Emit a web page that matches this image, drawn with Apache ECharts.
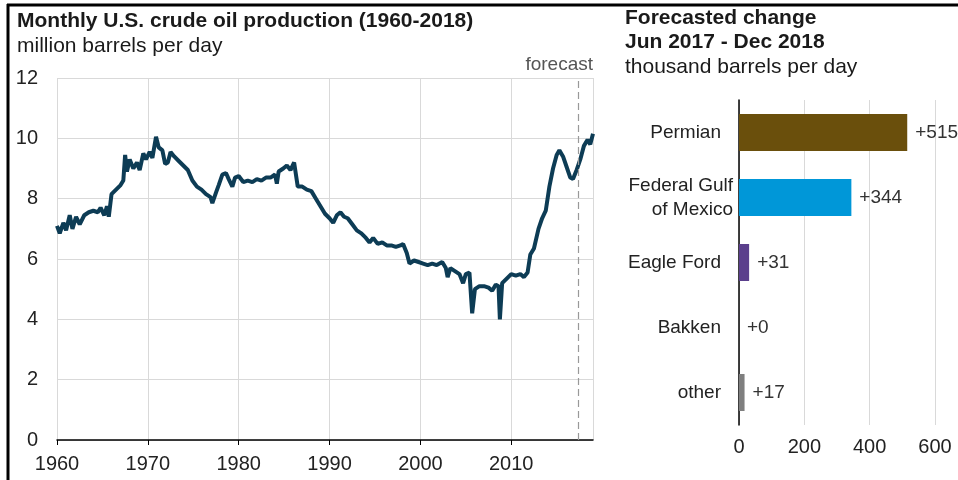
<!DOCTYPE html>
<html>
<head>
<meta charset="utf-8">
<script src="https://cdn.jsdelivr.net/npm/echarts@6/dist/echarts.min.js"></script>
<style>
  html, body { margin: 0; padding: 0; background: #fff; }
  #chart { width: 958px; height: 480px; }
</style>
</head>
<body>
<div id="chart"></div>
<script>
// monthly production (year, million b/d)
var prodYears = [
  1960.0, 1960.3, 1960.7, 1961.0, 1961.4, 1961.7, 1962.1, 1962.5, 1963.0, 1963.5,
  1964.0, 1964.5, 1964.8, 1965.2, 1965.5, 1965.7, 1966.0, 1966.5, 1967.0, 1967.3,
  1967.5, 1967.7, 1968.0, 1968.4, 1968.8, 1969.1, 1969.5, 1969.8, 1970.2, 1970.5,
  1970.9, 1971.2, 1971.6, 1971.9, 1972.2, 1972.5, 1972.9, 1973.4, 1973.9, 1974.4,
  1974.9, 1975.4, 1975.9, 1976.4, 1976.9, 1977.1, 1977.5, 1977.8, 1978.2, 1978.6,
  1978.9, 1979.3, 1979.6, 1980.0, 1980.5, 1981.0, 1981.5, 1982.0, 1982.5, 1983.0,
  1983.5, 1984.0, 1984.2, 1984.4, 1984.9, 1985.3, 1985.7, 1986.1, 1986.5, 1987.0,
  1987.5, 1988.0, 1988.5, 1989.0, 1989.5, 1990.0, 1990.4, 1990.8, 1991.2, 1991.6,
  1992.0, 1992.5, 1993.0, 1993.5, 1994.0, 1994.4, 1994.8, 1995.3, 1995.8, 1996.3,
  1996.8, 1997.3, 1997.8, 1998.1, 1998.5, 1998.8, 1999.3, 1999.8, 2000.3, 2000.8,
  2001.3, 2001.8, 2002.4, 2002.8, 2003.0, 2003.3, 2003.8, 2004.3, 2004.7, 2005.0,
  2005.4, 2005.7, 2006.0, 2006.5, 2007.0, 2007.5, 2007.9, 2008.3, 2008.6, 2008.75,
  2009.0, 2009.5, 2010.0, 2010.5, 2011.0, 2011.4, 2011.8, 2012.1, 2012.5, 2013.0,
  2013.4, 2013.8, 2014.2, 2014.6, 2015.0, 2015.3, 2015.7, 2016.1, 2016.5, 2016.8,
  2017.2, 2017.6, 2018.0, 2018.4, 2018.7, 2019.0
];
var prodValues = [
  7.10, 6.85, 7.20, 6.95, 7.45, 7.00, 7.40, 7.15, 7.45, 7.55,
  7.60, 7.55, 7.70, 7.45, 7.75, 7.40, 8.15, 8.30, 8.45, 8.60,
  9.45, 8.90, 9.30, 9.00, 9.20, 8.95, 9.50, 9.30, 9.55, 9.35,
  10.05, 9.70, 9.60, 9.15, 9.20, 9.55, 9.40, 9.25, 9.10, 8.95,
  8.60, 8.40, 8.30, 8.15, 8.05, 7.85, 8.20, 8.45, 8.80, 8.85,
  8.65, 8.40, 8.70, 8.75, 8.55, 8.60, 8.55, 8.65, 8.60, 8.70,
  8.70, 8.80, 8.50, 8.90, 9.00, 9.10, 8.95, 9.20, 8.40, 8.40,
  8.30, 8.25, 8.00, 7.75, 7.50, 7.35, 7.20, 7.45, 7.55, 7.40,
  7.35, 7.15, 6.95, 6.85, 6.70, 6.55, 6.70, 6.50, 6.55, 6.45,
  6.45, 6.40, 6.45, 6.50, 6.20, 5.85, 5.95, 5.90, 5.85, 5.80,
  5.85, 5.80, 5.90, 5.70, 5.40, 5.70, 5.60, 5.50, 5.20, 5.50,
  5.55, 4.20, 5.00, 5.10, 5.10, 5.05, 4.95, 5.15, 5.10, 4.00,
  5.20, 5.35, 5.50, 5.45, 5.50, 5.40, 5.55, 6.15, 6.35, 7.00,
  7.35, 7.60, 8.40, 9.00, 9.45, 9.60, 9.40, 9.05, 8.70, 8.65,
  8.95, 9.30, 9.75, 9.95, 9.80, 10.15
];
var forecastStart = 2017.42;

// forecasted change by region, thousand b/d
var regions = ['Permian', 'Federal Gulf\nof Mexico', 'Eagle Ford', 'Bakken', 'other'];
var changes = [515, 344, 31, 0, 17];
var regionColors = ['#6a4f0c', '#0097d8', '#5b3f8c', '#7f7f7f', '#7f7f7f'];

var font = 'Liberation Sans, Arial, sans-serif';

var lineData = prodYears.map(function (y, i) { return [y, prodValues[i]]; });

var chart = echarts.init(document.getElementById('chart'));

var option = {
  backgroundColor: '#fff',
  animation: false,
  textStyle: { fontFamily: font },
  grid: [
    { left: 57, right: 365, top: 78, bottom: 40 },
    { left: 739, right: 23, top: 100, bottom: 55 }
  ],
  xAxis: [
    {
      gridIndex: 0,
      type: 'value',
      min: 1960,
      max: 2019,
      interval: 10,
      axisLine: { show: true, lineStyle: { color: '#000', width: 1.5 } },
      axisTick: { show: true, length: 5, lineStyle: { color: '#000' } },
      axisLabel: {
        color: '#222', fontSize: 20, margin: 14,
        showMaxLabel: false,
        formatter: function (v) { return v % 10 === 0 ? String(v) : ''; }
      },
      splitLine: { show: true, lineStyle: { color: '#d9d9d9', width: 1 } }
    },
    {
      gridIndex: 1,
      type: 'value',
      min: 0,
      max: 600,
      interval: 200,
      axisLine: { show: false },
      axisTick: { show: false },
      axisLabel: { color: '#222', fontSize: 20, margin: 12 },
      splitLine: { show: true, lineStyle: { color: '#d9d9d9', width: 1 } }
    }
  ],
  yAxis: [
    {
      gridIndex: 0,
      type: 'value',
      min: 0,
      max: 12,
      interval: 2,
      axisLine: { show: false },
      axisTick: { show: false },
      axisLabel: { color: '#222', fontSize: 20, margin: 19 },
      splitLine: { show: true, lineStyle: { color: '#d9d9d9', width: 1 } }
    },
    {
      gridIndex: 1,
      type: 'category',
      data: regions,
      inverse: true,
      axisLine: { show: true, lineStyle: { color: '#000', width: 1.5 } },
      axisTick: { show: false },
      axisLabel: {
        color: '#222', fontSize: 19, margin: 6, lineHeight: 24,
        formatter: function (v) {
          return v.indexOf('\n') >= 0 ? v : '{s|' + v + '}';
        },
        rich: { s: { fontSize: 19, padding: [0, 12, 0, 0], color: '#222' } }
      }
    }
  ],
  series: [
    {
      type: 'line',
      xAxisIndex: 0,
      yAxisIndex: 0,
      data: lineData,
      showSymbol: false,
      lineStyle: { color: '#0d3c55', width: 4 },
      markLine: {
        silent: true,
        symbol: ['none', 'none'],
        label: { show: false },
        lineStyle: { color: '#999', type: [7, 4], width: 1.2 },
        data: [{ xAxis: forecastStart }]
      },
      z: 3
    },
    {
      type: 'bar',
      xAxisIndex: 1,
      yAxisIndex: 1,
      barWidth: '57%',
      data: changes.map(function (v, i) {
        return { value: v, itemStyle: { color: regionColors[i] } };
      }),
      label: {
        show: true,
        position: 'right',
        distance: 8,
        color: '#333',
        fontSize: 19,
        formatter: function (p) { return '+' + p.value; }
      }
    }
  ],
  graphic: [
    { type: 'text', left: 17, top: 11, style: { text: 'Monthly U.S. crude oil production (1960-2018)', font: 'bold 21px ' + font, fill: '#1a1a1a' } },
    { type: 'text', left: 17, top: 36, style: { text: 'million barrels per day', font: '21px ' + font, fill: '#1a1a1a' } },
    { type: 'text', right: 365, top: 55, style: { text: 'forecast', font: '19px ' + font, fill: '#555', align: 'right' } },
    { type: 'text', left: 625, top: 8, style: { text: 'Forecasted change', font: 'bold 21px ' + font, fill: '#1a1a1a' } },
    { type: 'text', left: 625, top: 32, style: { text: 'Jun 2017 - Dec 2018', font: 'bold 21px ' + font, fill: '#1a1a1a' } },
    { type: 'text', left: 625, top: 57, style: { text: 'thousand barrels per day', font: '21px ' + font, fill: '#1a1a1a' } },
    // frame
    { type: 'line', shape: { x1: 7, y1: 5, x2: 958, y2: 5 }, style: { stroke: '#000', lineWidth: 3 } },
    { type: 'line', shape: { x1: 8, y1: 4, x2: 8, y2: 480 }, style: { stroke: '#000', lineWidth: 3 } }
  ]
};

chart.setOption(option);
</script>
</body>
</html>
